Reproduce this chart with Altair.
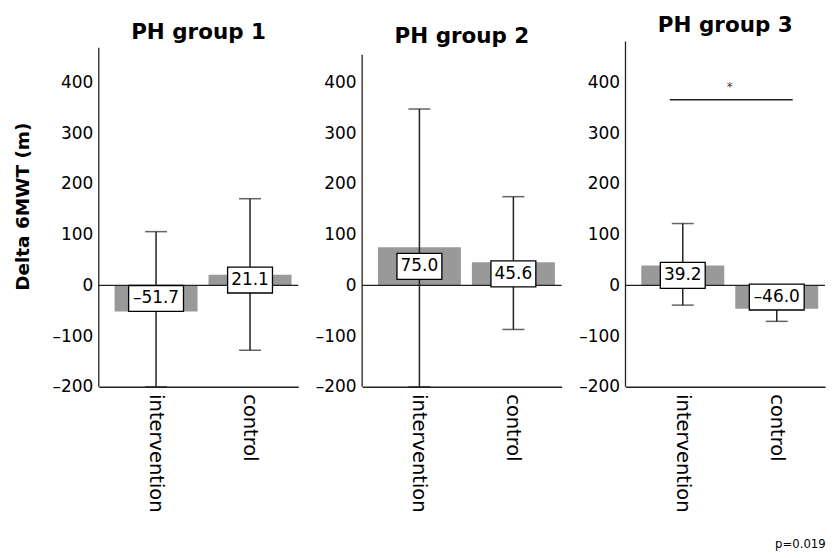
import altair as alt
import pandas as pd

# ---------------- data ----------------
groups = ["PH group 1", "PH group 2", "PH group 3"]
arms = ["intervention", "control"]
means = [[-51.7, 21.1], [75.0, 45.6], [39.2, -46.0]]
ci_low = [[-200, -128], [-200, -87], [-39, -71]]
ci_high = [[106, 171], [348, 175], [122, -21]]
axis_top = [469, 455, 481]          # where each panel's y-axis line ends
y_min, y_max = -200, 481
y_ticks = [-200, -100, 0, 100, 200, 300, 400]
y_title = "Delta 6MWT (m)"
sig_group = 2                        # index of panel with the significance bar
sig_from, sig_to = "intervention", "control"
sig_y = 366
sig_mark = "*"
p_text = "p=0.019"

# ---------------- styling ----------------
FONT = "DejaVu Sans"
W, H = 200, 346
BAR = "#999999"
INK = "#222222"
title_offsets = [-12.5, -16.5, -6.5]

LONG_BOX = "M-1,-0.473H1V0.473H-1Z"
SHORT_BOX = "M-0.818,-0.473H0.818V0.473H-0.818Z"


def panel(i):
    df = pd.DataFrame({"arm": arms, "mean": means[i], "lo": ci_low[i], "hi": ci_high[i]})
    xscale = alt.Scale(domain=arms, paddingInner=0.117, paddingOuter=0.12, align=0.7)
    x = alt.X("arm:N", sort=arms, scale=xscale,
              axis=alt.Axis(title=None, labelAngle=90, labelFontSize=19.5, labelFont=FONT,
                            labelColor="black", ticks=False, domainColor=INK, domainWidth=1.3,
                            labelPadding=7))
    yscale = alt.Scale(domain=[y_min, y_max], nice=False, zero=False)
    yaxis_kw = dict(values=y_ticks, ticks=False, domain=False, grid=False, labelFontSize=17,
                    labelFont=FONT, labelColor="black", labelPadding=6,
                    labelExpr="replace(replace(datum.label, '\u2212', '\u2013'), '-', '\u2013')")
    if i == 0:
        yaxis = alt.Axis(title=y_title, titleFont=FONT, titleFontSize=18.5, titleFontWeight="bold",
                         titleColor="black", titlePadding=20, titleY=165, **yaxis_kw)
    else:
        yaxis = alt.Axis(title=None, **yaxis_kw)

    base = alt.Chart(df).encode(x=x)
    bars = base.mark_bar(color=BAR).encode(y=alt.Y("mean:Q", scale=yscale, axis=yaxis))
    zero = alt.Chart(pd.DataFrame({"z": [0]})).mark_rule(color=INK, strokeWidth=1.3).encode(
        y=alt.Y("z:Q"))
    axline = alt.Chart(pd.DataFrame({"b": [y_min], "t": [axis_top[i]]})).mark_rule(
        color=INK, strokeWidth=1.3).encode(x=alt.value(0), y=alt.Y("b:Q"), y2=alt.Y2("t:Q"))
    err = base.mark_rule(color=INK, strokeWidth=1.5).encode(y="lo:Q", y2="hi:Q")
    cap_lo = base.mark_tick(color=INK, size=22, thickness=1.5).encode(y="lo:Q")
    cap_hi = base.mark_tick(color=INK, size=22, thickness=1.5).encode(y="hi:Q")

    lab = base.transform_calculate(
        ymid="datum.mean / 2",
        lab="replace(replace(format(datum.mean, '.1f'), '\u2212', '\u2013'), '-', '\u2013')",
    ).transform_calculate(
        shp=f"length(datum.lab) > 4 ? '{LONG_BOX}' : '{SHORT_BOX}'"
    )
    box = lab.mark_point(fill="white", stroke="black", fillOpacity=1, opacity=1,
                         strokeWidth=1.3, size=3025).encode(
        y="ymid:Q", shape=alt.Shape("shp:N", scale=None))
    txt = lab.mark_text(font=FONT, fontSize=17, color="black").encode(
        y="ymid:Q", text="lab:N")

    layers = [bars, zero, axline, err, cap_lo, cap_hi, box, txt]

    if i == sig_group:
        sdf = pd.DataFrame({"arm": [sig_from], "arm2": [sig_to], "y": [sig_y], "s": [sig_mark]})
        srule = alt.Chart(sdf).mark_rule(color=INK, strokeWidth=1.5, xOffset=-13, x2Offset=16).encode(
            x=alt.X("arm:N", sort=arms, scale=xscale), x2=alt.X2("arm2:N"), y="y:Q")
        star = alt.Chart(sdf).mark_text(font=FONT, fontSize=12, color="#444444", dx=47, dy=-13).encode(
            x=alt.X("arm:N", sort=arms, scale=xscale), y="y:Q", text="s:N")
        layers += [srule, star]

    return alt.layer(*layers).properties(
        width=W, height=H,
        title=alt.TitleParams(groups[i], font=FONT, fontSize=21.5, fontWeight="bold", color="black",
                              offset=title_offsets[i], baseline="middle", frame="group",
                              anchor="middle"),
    )


chart = alt.hconcat(*[panel(i) for i in range(3)], spacing=64, bounds="flush").properties(
    title=alt.TitleParams(p_text, orient="bottom", anchor="end", font="DejaVu Sans Condensed",
                          fontSize=13, fontWeight="normal", color="black", offset=26),
    padding={"left": 5, "top": 6, "right": 0, "bottom": 0},
).configure_view(stroke=None)

chart.save("out.html", embed_options={"renderer": "svg", "actions": False})
